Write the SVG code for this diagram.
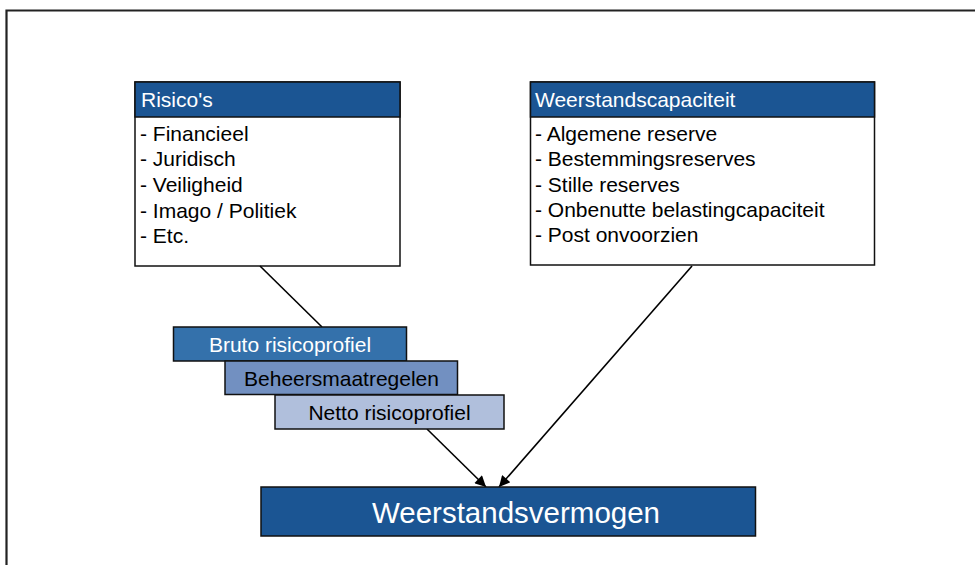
<svg xmlns="http://www.w3.org/2000/svg" width="975" height="565" viewBox="0 0 975 565">
<defs>
<style>
.t{font-family:"Liberation Sans",Arial,sans-serif;font-size:21px}
.w{fill:#fff}
.k{fill:#000}
.box{stroke:#111;stroke-width:1.5}
.conn{stroke:#000;stroke-width:1.6;fill:none}
</style>
<marker id="ah" viewBox="0 0 10 10" refX="10" refY="5" markerWidth="13" markerHeight="11" markerUnits="userSpaceOnUse" orient="auto">
<path d="M0,0 L10,5 L0,10 z" fill="#000"/>
</marker>
</defs>
<rect width="975" height="565" fill="#fff"/>
<path d="M6.5,565 V10.5 H975" fill="none" stroke="#222" stroke-width="2.2"/>
<g id="risicos">
<rect class="box" x="135" y="82" width="265" height="184" fill="#fff"/>
<rect class="box" x="135" y="82" width="265" height="35" fill="#1b5593"/>
<text class="t w" x="141" y="107">Risico's</text>
<text class="t k" x="140" y="141">- Financieel</text>
<text class="t k" x="140" y="166">- Juridisch</text>
<text class="t k" x="140" y="192">- Veiligheid</text>
<text class="t k" x="140" y="217.5">- Imago / Politiek</text>
<text class="t k" x="140" y="243">- Etc.</text>
</g>
<g id="weerstandscapaciteit">
<rect class="box" x="530.5" y="82" width="344" height="183" fill="#fff"/>
<rect class="box" x="530.5" y="82" width="344" height="35" fill="#1b5593"/>
<text class="t w" x="535" y="107">Weerstandscapaciteit</text>
<text class="t k" x="535" y="140.5">- Algemene reserve</text>
<text class="t k" x="535" y="166">- Bestemmingsreserves</text>
<text class="t k" x="535" y="191.5">- Stille reserves</text>
<text class="t k" x="535" y="217">- Onbenutte belastingcapaciteit</text>
<text class="t k" x="535" y="242">- Post onvoorzien</text>
</g>
<g id="connectors">
<line class="conn" x1="260" y1="266" x2="322" y2="327"/>
<line class="conn" x1="427" y1="429" x2="486" y2="487" marker-end="url(#ah)"/>
<line class="conn" x1="692" y1="266" x2="499" y2="487" marker-end="url(#ah)"/>
</g>
<g id="bruto">
<rect class="box" x="173.5" y="327" width="233" height="34" fill="#3471ab"/>
<text class="t w" x="290" y="351.5" text-anchor="middle">Bruto risicoprofiel</text>
</g>
<g id="beheersmaatregelen">
<rect class="box" x="225" y="361" width="232.5" height="33.5" fill="#7290c1"/>
<text class="t k" x="341.5" y="385.5" text-anchor="middle">Beheersmaatregelen</text>
</g>
<g id="netto">
<rect class="box" x="275" y="395" width="229" height="34" fill="#b0bfdc"/>
<text class="t k" x="389.5" y="420" text-anchor="middle">Netto risicoprofiel</text>
</g>
<g id="weerstandsvermogen">
<rect class="box" x="261" y="487" width="494.5" height="49" fill="#1b5593"/>
<text class="t w" x="516" y="523" text-anchor="middle" style="font-size:29.5px">Weerstandsvermogen</text>
</g>
</svg>
